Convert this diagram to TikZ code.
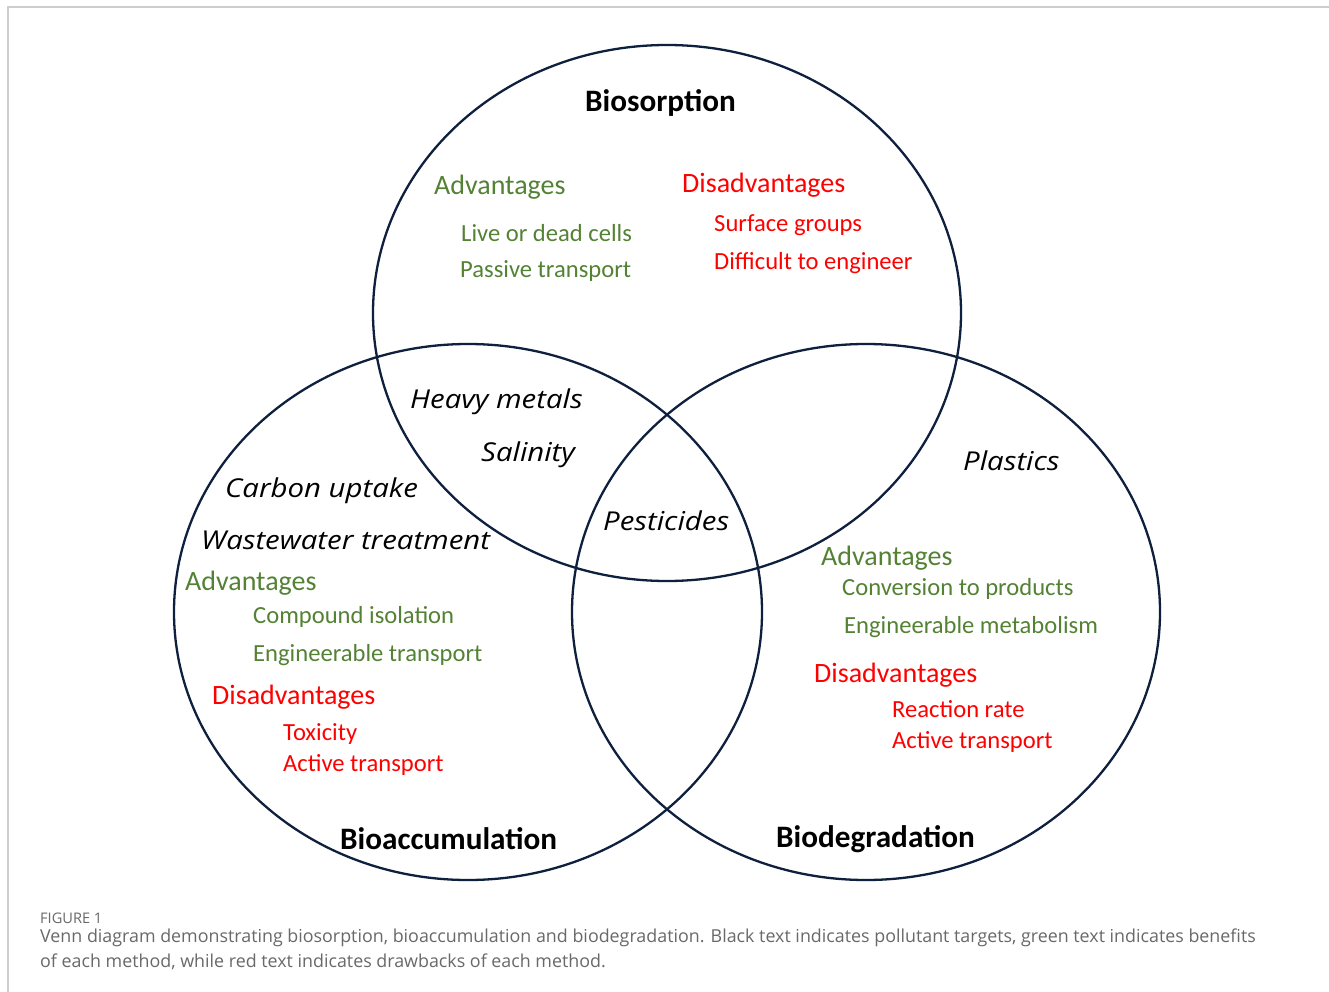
\documentclass[tikz,border=0pt]{standalone}
\usepackage{fontspec}
\setmainfont{Carlito}
\newfontfamily\capfont{Open Sans}
\newfontfamily\targetfont[FakeStretch=1.13]{Open Sans}
\usetikzlibrary{shapes.geometric}
\definecolor{ringblue}{RGB}{14,32,62}
\definecolor{advgreen}{RGB}{84,130,53}
\definecolor{disred}{RGB}{255,0,0}
\definecolor{framegray}{RGB}{205,205,205}
\definecolor{capgray}{RGB}{105,105,105}
\tikzset{
  ring/.style={ellipse, draw=ringblue, line width=2.3pt, minimum width=588, minimum height=536, inner sep=0pt},
  title/.style={font=\fontsize{31.2}{33}\selectfont\bfseries, text=black, anchor=west, inner sep=0pt},
  target/.style={font=\targetfont\fontsize{26}{30}\selectfont\itshape, text=black, anchor=west, inner sep=0pt},
  proshead/.style={font=\fontsize{28}{30}\selectfont, text=advgreen, anchor=west, inner sep=0pt},
  conshead/.style={font=\fontsize{28}{30}\selectfont, text=disred, anchor=west, inner sep=0pt},
  pro/.style={font=\fontsize{24.6}{27}\selectfont, text=advgreen, anchor=west, inner sep=0pt},
  con/.style={font=\fontsize{24.6}{27}\selectfont, text=disred, anchor=west, inner sep=0pt},
  caphead/.style={font=\capfont\fontsize{14.6}{16}\selectfont, text=capgray, anchor=west, inner sep=0pt},
  captext/.style={font=\capfont\fontsize{17.85}{20}\selectfont, text=capgray, anchor=west, inner sep=0pt}
}
\begin{document}
\begin{tikzpicture}[x=1pt, y=-1pt]
\useasboundingbox (0,0) rectangle (1329,992);
\fill[white] (0,0) rectangle (1329,992);

% page frame
\coordinate (frameTL) at (8,7);
\coordinate (frameTR) at (1329,7);
\coordinate (frameBL) at (8,992);
\draw[framegray, line width=1.5pt] (frameBL) -- (frameTL) -- (frameTR);

% the three sets
\node[ring] (biosorp) at (667,313) {};
\node[ring] (bioacc) at (468,612) {};
\node[ring] (biodeg) at (866,612) {};

% biosorption
\node[title] (tSorp) at (585,103) {Biosorption};
\node[proshead] (sorpAdv) at (434,187) {Advantages};
\node[pro] (sorpA1) at (461,233) {Live or dead cells};
\node[pro] (sorpA2) at (460,271) {Passive transport};
\node[conshead] (sorpDis) at (682,185) {Disadvantages};
\node[con] (sorpD1) at (714,225) {Surface groups};
\node[con] (sorpD2) at (714,263) {Difficult to engineer};

% shared targets
\node[target] (heavy) at (410,402) {Heavy metals};
\node[target] (salin) at (481,455) {Salinity};
\node[target] (pest) at (603,521) {Pesticides};
\node[target] (plast) at (963,461) {Plastics};
\node[target] (carbon) at (225,491) {Carbon uptake};
\node[target] (waste) at (201,540) {Wastewater treatment};

% bioaccumulation
\node[proshead] (accAdv) at (185,583) {Advantages};
\node[pro] (accA1) at (253,617) {Compound isolation};
\node[pro] (accA2) at (253,655) {Engineerable transport};
\node[conshead] (accDis) at (212,697) {Disadvantages};
\node[con] (accD1) at (283,734) {Toxicity};
\node[con] (accD2) at (283,765) {Active transport};
\node[title] (tAcc) at (340,839) {Bioaccumulation};

% biodegradation
\node[proshead] (degAdv) at (821,558) {Advantages};
\node[pro] (degA1) at (842,589) {Conversion to products};
\node[pro] (degA2) at (844,627) {Engineerable metabolism};
\node[conshead] (degDis) at (814,675) {Disadvantages};
\node[con] (degD1) at (892,709) {Reaction rate};
\node[con] (degD2) at (892,742) {Active transport};
\node[title] (tDeg) at (776,839) {Biodegradation};

% caption
\node[caphead] (fig) at (40,918) {FIGURE 1};
\node[captext] (cap1) at (40,938) {Venn diagram demonstrating biosorption, bioaccumulation and biodegradation. Black text indicates pollutant targets, green text indicates benefits};
\node[captext] (cap2) at (40,962) {of each method, while red text indicates drawbacks of each method.};
\end{tikzpicture}
\end{document}
